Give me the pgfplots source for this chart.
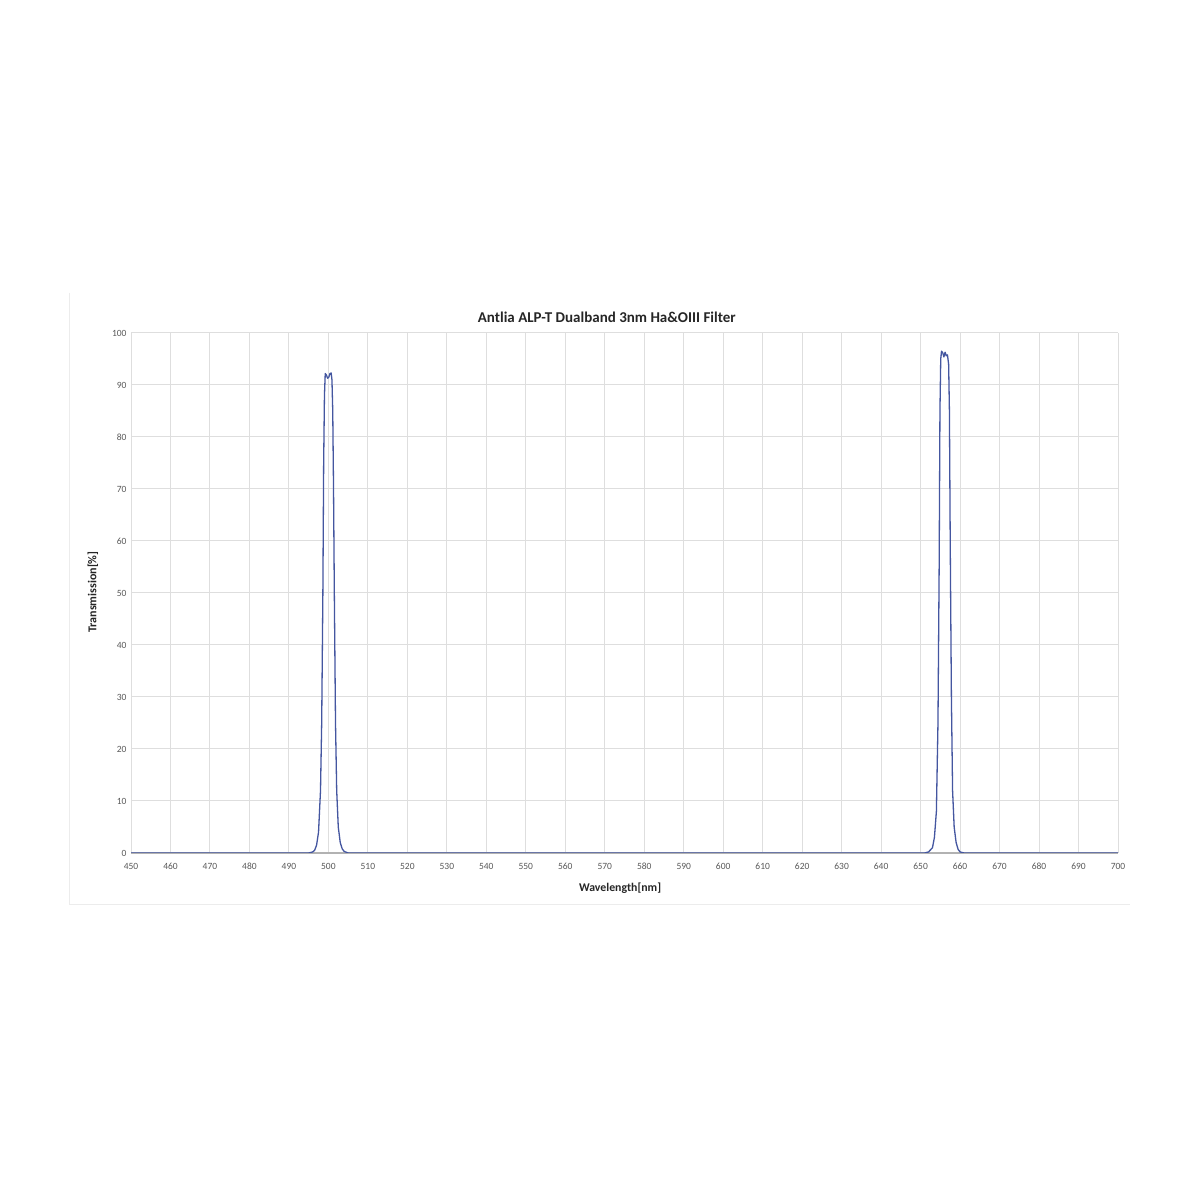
\documentclass[border=0pt]{standalone}
\usepackage{pgfplots}
\pgfplotsset{compat=1.18}
\usepackage{fontspec}
\setmainfont{Carlito}
\definecolor{curve}{RGB}{68,86,160}
\definecolor{gridc}{RGB}{222,222,222}
\definecolor{tickc}{RGB}{89,89,89}
\begin{document}
\begin{tikzpicture}[x=1pt,y=1pt]
% page is 1200 x 1200, 1pt per pixel
\fill[white] (0,0) rectangle (1200,1200);
\draw[gray!15, line width=1pt] (69,907) -- (69,295) -- (1130,295);
\begin{axis}[
    at={(131pt,347pt)}, anchor=south west,
    scale only axis, width=987pt, height=520pt,
    xmin=450, xmax=700, ymin=0, ymax=100,
    xtick distance=10, ytick distance=10,
    grid=major, major grid style={gridc, line width=1pt},
    axis x line*=bottom, axis y line*=left,
    x axis line style={draw=gray!60, line width=1.2pt, -},
    y axis line style={draw=none},
    major tick length=0pt,
    tick label style={font=\fontsize{9.5}{11}\selectfont, text=tickc},
    /pgf/number format/assume math mode=true,
    xticklabel style={yshift=-6pt, text height=7pt, text depth=0pt, anchor=north},
    yticklabel style={xshift=-1pt},
    title={Antlia ALP-T Dualband 3nm Ha\&OIII Filter},
    title style={font=\fontsize{15}{17}\selectfont\bfseries, text=black!85,
        at={(axis description cs:0.482,1.019)}, anchor=center},
    xlabel={Wavelength[nm]},
    xlabel style={font=\fontsize{11.8}{13}\selectfont\bfseries, text=black!85,
        at={(axis description cs:0.4955,-0.067)}, anchor=center},
    ylabel={Transmission[\%]},
    ylabel style={font=\fontsize{12}{13}\selectfont\bfseries, text=black!85,
        at={(axis description cs:-0.0385,0.502)}, anchor=center},
]
\addplot[curve, line width=1.3pt, line join=round] coordinates {
(450,0) (495,0) (496,0.2) (496.5,0.5) (497,1.5) (497.5,4) (498,12)
(498.3,25) (498.6,50) (498.8,75) (499.0,88) (499.2,92.2) (499.5,91.9)
(499.8,91.3) (500.1,91.5) (500.4,92.2) (500.7,92.3) (500.9,91)
(501.1,85) (501.3,70) (501.5,50) (501.8,25) (502.1,12) (502.5,5)
(503,2) (503.5,0.8) (504,0.3) (505,0)
(651,0) (652,0.2) (653,1) (653.5,3) (654,8) (654.4,25) (654.7,55)
(654.9,85) (655.1,95) (655.3,96.5) (655.6,96.2) (655.9,95.4)
(656.2,96.3) (656.5,95.6) (656.8,95.8) (657.1,94) (657.3,85)
(657.5,60) (657.8,30) (658.1,12) (658.5,5) (659,2) (659.5,0.7)
(660,0.2) (661,0) (700,0)
};
\end{axis}
\end{tikzpicture}
\end{document}
